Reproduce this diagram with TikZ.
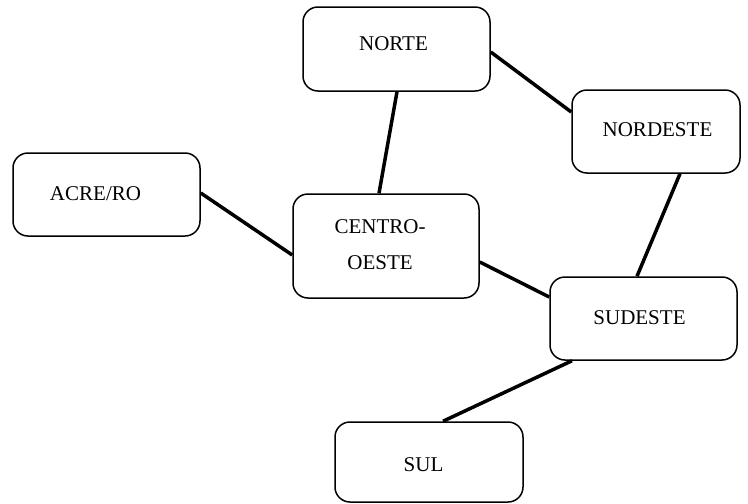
\documentclass[tikz,border=0pt]{standalone}
\usepackage{fontspec}
\setmainfont{Liberation Serif}
\begin{document}
\begin{tikzpicture}[x=1pt,y=-1pt,
  region/.style={draw, line width=1.5pt, rounded corners=15pt, inner sep=0pt},
  link/.style={line width=3.5pt},
  txt/.style={font=\fontsize{21}{36}\selectfont, align=center}]
\useasboundingbox (0,0) rectangle (748,504);
\node[region, minimum width=187pt, minimum height=84pt,
  label={[txt,xshift=-3pt,yshift=5pt]center:NORTE}] (norte) at (396.5,49) {};
\node[region, minimum width=168pt, minimum height=83pt,
  label={[txt,xshift=1.5pt,yshift=2pt]center:NORDESTE}] (nordeste) at (656,131.5) {};
\node[region, minimum width=187pt, minimum height=83pt,
  label={[txt,xshift=-11pt,yshift=1pt]center:ACRE/RO}] (acre) at (106.5,194.5) {};
\node[region, minimum width=186pt, minimum height=104pt,
  label={[txt,xshift=-6pt,yshift=1pt]center:CENTRO-\\OESTE}] (centro) at (386,246) {};
\node[region, minimum width=187pt, minimum height=83pt,
  label={[txt,xshift=-4pt,yshift=1pt]center:SUDESTE}] (sudeste) at (643.5,318.5) {};
\node[region, minimum width=188pt, minimum height=80pt,
  label={[txt,xshift=-5.5pt,yshift=-3pt]center:SUL}] (sul) at (429,462) {};
\draw[link] ([yshift=-3pt]norte.east) -- ([yshift=19.5pt]nordeste.west);
\draw[link] ([xshift=0.5pt]norte.south) -- ([xshift=-7pt]centro.north);
\draw[link] ([yshift=1.5pt]acre.east) -- ([yshift=-9pt]centro.west);
\draw[link] ([yshift=-16pt]centro.east) -- ([yshift=21.5pt]sudeste.west);
\draw[link] ([xshift=24pt]nordeste.south) -- ([xshift=-6.5pt]sudeste.north);
\draw[link] ([xshift=-71.5pt]sudeste.south) -- ([xshift=14pt]sul.north);
\end{tikzpicture}
\end{document}
